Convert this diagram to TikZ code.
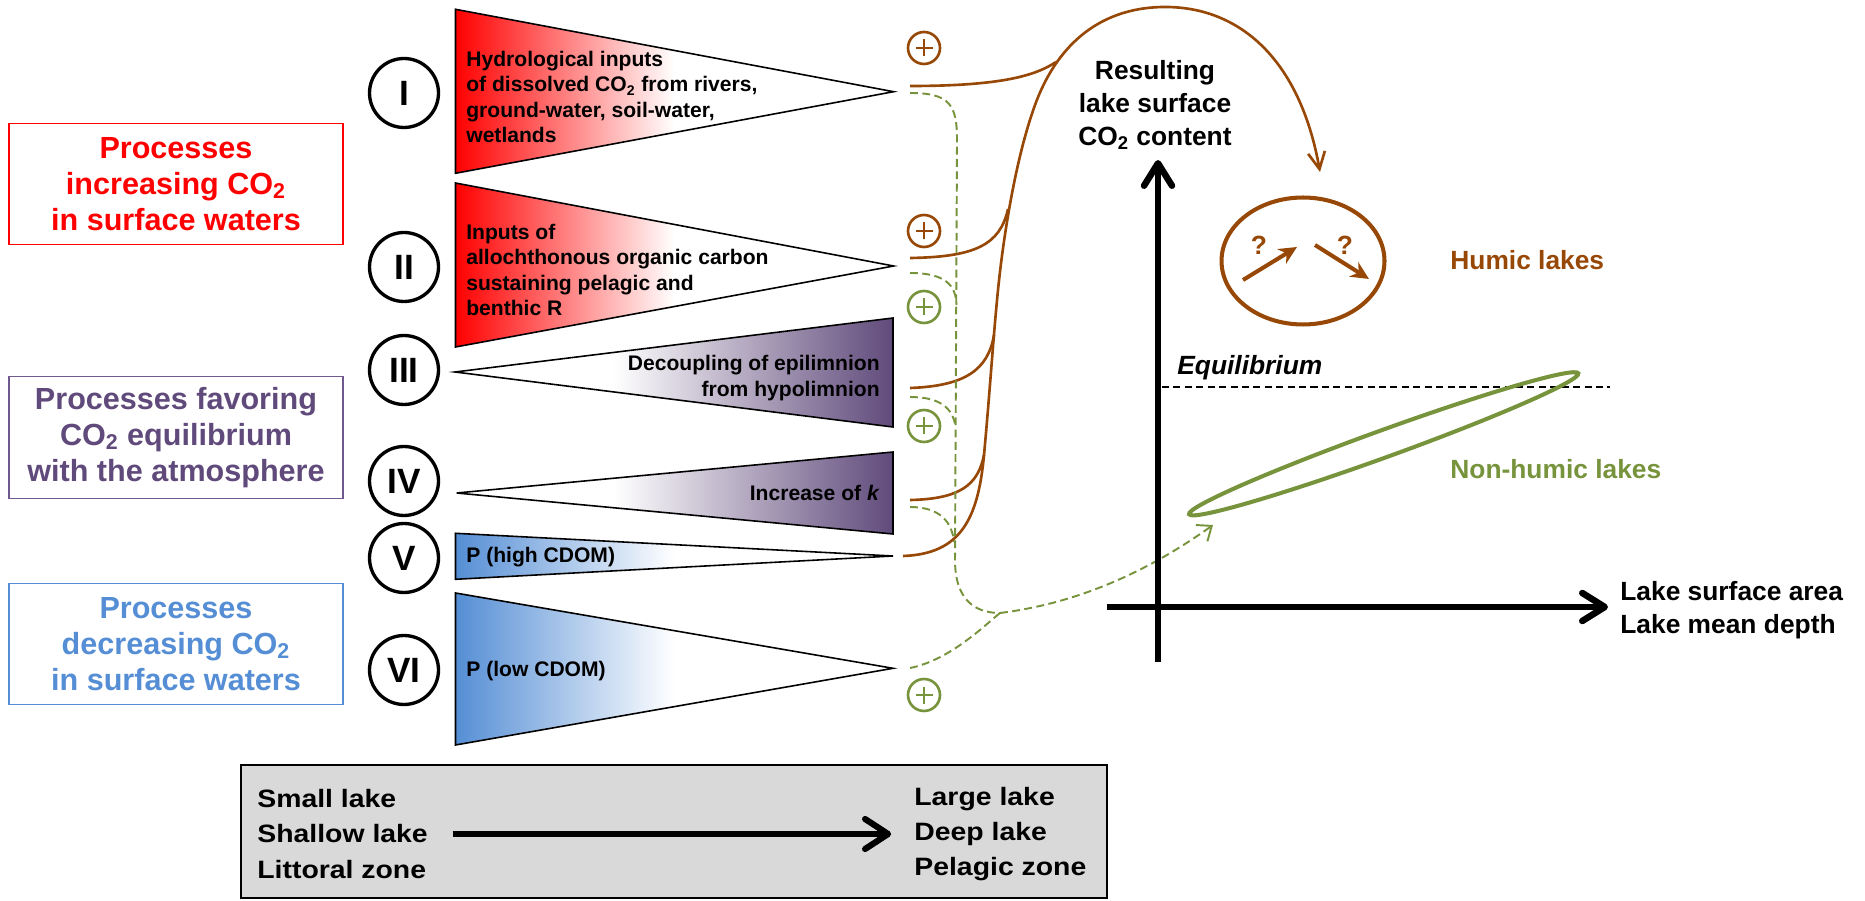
\documentclass[tikz,border=0pt]{standalone}
\usepackage{fontspec}
\setmainfont{Liberation Sans}
\newfontfamily\widefont{Liberation Sans}[FakeStretch=1.13]
\usetikzlibrary{arrows.meta,shapes.geometric}

\definecolor{procred}{RGB}{255,0,0}
\definecolor{procpurple}{RGB}{96,74,123}
\definecolor{purpleborder}{RGB}{112,88,145}
\definecolor{procblue}{RGB}{85,142,213}
\definecolor{humicbrown}{RGB}{152,72,6}
\definecolor{nonhumicgreen}{RGB}{119,147,60}
\definecolor{scalegray}{RGB}{217,217,217}

\pgfdeclarehorizontalshading{redfade}{100bp}{color(0bp)=(procred); color(25bp)=(procred); color(50bp)=(white); color(100bp)=(white)}
\pgfdeclarehorizontalshading{purplefade}{100bp}{color(0bp)=(white); color(43bp)=(white); color(75bp)=(procpurple); color(100bp)=(procpurple)}
\pgfdeclarehorizontalshading{bluefade}{100bp}{color(0bp)=(procblue); color(25bp)=(procblue); color(50bp)=(white); color(100bp)=(white)}

\begin{document}
\begin{tikzpicture}
  [x=0.02cm,y=-0.02cm,every node/.style={font=\bfseries},
   roman/.style={circle,draw,line width=1.9pt,minimum size=1.38cm,inner sep=0pt,font=\bfseries\fontsize{20}{24}\selectfont},
   plussign/.style={circle,draw=#1,line width=1.5pt,minimum size=0.64cm,inner sep=0pt,
     path picture={\draw[#1,line width=1.5pt] (path picture bounding box.center) +(-0.17cm,0) -- +(0.17cm,0) +(0,-0.17cm) -- +(0,0.17cm);}}]
  \tikzstyle{procbox} = [draw,line width=0.8pt,minimum width=6.68cm,minimum height=2.43cm,align=center,font=\bfseries\fontsize{17.4}{20.5}\selectfont]
  \tikzstyle{wedge} = [line width=0.9pt]
  \tikzstyle{wedgetext} = [inner sep=0pt,font=\bfseries\fontsize{12}{14.3}\selectfont]
  \tikzstyle{feed} = [humicbrown,line width=1.5pt]
  \tikzstyle{dilute} = [nonhumicgreen,line width=1.1pt,dash pattern=on 4.5pt off 2.5pt]
  \tikzstyle{plotaxis} = [line width=3.7pt]
  \tikzstyle{plotlabel} = [inner sep=0pt,font=\bfseries\fontsize{15}{18.6}\selectfont]
  \tikzstyle{widetext} = [inner sep=0pt,align=left,font=\widefont\bfseries\fontsize{14.3}{20}\selectfont]
  \useasboundingbox (0,0) rectangle (1865,901);

  % process classes
  \node[procbox,draw=procred,text=procred] (incr) at (176,184) {Processes\\increasing CO\textsubscript{2}\\in surface waters};
  \node[procbox,draw=purpleborder,text=procpurple] (favor) at (176,437.5) {Processes favoring\\CO\textsubscript{2} equilibrium\\with the atmosphere};
  \node[procbox,draw=procblue,text=procblue] (decr) at (176,644) {Processes\\decreasing CO\textsubscript{2}\\in surface waters};

  \foreach \name/\ypos/\num in {rI/93/I,rII/267/II,rIII/370/III,rIV/481/IV,rV/558/V,rVI/670/VI}
    \node[roman] (\name) at (404,\ypos) {\num};

  % wedges
  \shadedraw[wedge,shading=redfade] (455.5,9.3) -- (893.6,91.7) -- (455.5,173.3) -- cycle;
  \shadedraw[wedge,shading=redfade] (455.5,183) -- (893.6,266) -- (455.5,347) -- cycle;
  \shadedraw[wedge,shading=purplefade] (455,372) -- (893,318) -- (893,427) -- cycle;
  \shadedraw[wedge,shading=purplefade] (456.6,493) -- (893,452) -- (893,534) -- cycle;
  \shadedraw[wedge,shading=bluefade] (455.5,533.3) -- (893,556) -- (455.5,579.3) -- cycle;
  \shadedraw[wedge,shading=bluefade] (455.5,593) -- (893,668.3) -- (455.5,745) -- cycle;

  \node[wedgetext,anchor=west,align=left] (txtI) at (466,97) {Hydrological inputs\\of dissolved CO\textsubscript{2} from rivers,\\ground-water, soil-water,\\wetlands};
  \node[wedgetext,anchor=west,align=left] (txtII) at (466,270) {Inputs of\\allochthonous organic carbon\\sustaining pelagic and\\benthic R};
  \node[wedgetext,anchor=east,align=right] (txtIII) at (880,378) {Decoupling of epilimnion\\from hypolimnion};
  \node[wedgetext,anchor=east] (txtIV) at (880,493) {Increase of \textit{k}};
  \node[wedgetext,anchor=west] (txtV) at (466,557) {P (high CDOM)};
  \node[wedgetext,anchor=west] (txtVI) at (466,671) {P (low CDOM)};

  \foreach \name/\ypos/\col in {plusI/48/humicbrown,plusII/231/humicbrown,plusIII/307/nonhumicgreen,plusIV/426/nonhumicgreen,plusVI/695/nonhumicgreen}
    \node[plussign=\col] (\name) at (924,\ypos) {};

  % connector ends
  \coordinate (brnI) at (910,86);
  \coordinate (brnII) at (910,258);
  \coordinate (brnIII) at (910,388);
  \coordinate (brnIV) at (910,500);
  \coordinate (brnV) at (903,556);
  \coordinate (grnI) at (910,93);
  \coordinate (grnII) at (910,273);
  \coordinate (grnIII) at (910,397);
  \coordinate (grnIV) at (910,507);
  \coordinate (grnVI) at (910,668);
  \coordinate (joinI) at (1056,62);
  \coordinate (joinII) at (1008,209);
  \coordinate (joinIII) at (994,335);
  \coordinate (joinIV) at (984,455);
  \coordinate (gII) at (956.5,305);
  \coordinate (gIII) at (955.5,427);
  \coordinate (gIV) at (954,542);
  \coordinate (merge) at (1000,613);
  \coordinate (humictop) at (1320,172);
  \coordinate (nhtip) at (1213,525);

  \draw[feed,-{Straight Barb[length=0.34cm,width=0.34cm]}] (brnV) .. controls (960,554) and (978,520) .. (joinIV)
    .. controls (990,390) and (993,340) .. (998,290) .. controls (1003,240) and (1015,160) .. (1035,105)
    .. controls (1055,50) and (1095,8) .. (1163,7) .. controls (1240,6) and (1300,60) .. (humictop);
  \draw[feed] (brnI) .. controls (1000,86) and (1035,76) .. (joinI);
  \draw[feed] (brnII) .. controls (975,257) and (1000,245) .. (joinII);
  \draw[feed] (brnIII) .. controls (965,386) and (988,370) .. (joinIII);
  \draw[feed] (brnIV) .. controls (960,499) and (978,485) .. (joinIV);

  \draw[dilute] (grnI) .. controls (950,93) and (957,105) .. (957,140) -- (955,560) .. controls (955,600) and (975,613) .. (merge);
  \draw[dilute] (grnII) .. controls (945,273) and (956,285) .. (gII);
  \draw[dilute] (grnIII) .. controls (940,397) and (953,408) .. (gIII);
  \draw[dilute] (grnIV) .. controls (940,507) and (952,522) .. (gIV);
  \draw[dilute] (grnVI) .. controls (950,660) and (985,625) .. (merge);
  \draw[dilute,-{Straight Barb[length=0.25cm,width=0.4cm]}] (merge) .. controls (1080,603) and (1150,570) .. (nhtip);

  % graph
  \coordinate (yfoot) at (1158,662);
  \coordinate (ytop) at (1158,160);
  \coordinate (xfoot) at (1107,607);
  \coordinate (xtip) at (1608,607);
  \coordinate (eqL) at (1162,387);
  \coordinate (eqR) at (1610,387);
  \draw[plotaxis,-{Straight Barb[length=0.45cm,width=0.56cm,round]}] (yfoot) -- (ytop);
  \draw[plotaxis,-{Straight Barb[length=0.45cm,width=0.56cm,round]}] (xfoot) -- (xtip);
  \draw[line width=1.1pt,dash pattern=on 4pt off 2.5pt] (eqL) -- (eqR);

  \node[plotlabel,align=center] (result) at (1155,105) {Resulting\\lake surface\\CO\textsubscript{2} content};
  \node[plotlabel,align=left,anchor=west] (xlabel) at (1620,610) {Lake surface area\\Lake mean depth};
  \node[plotlabel,anchor=west,font=\bfseries\itshape\fontsize{15}{18}\selectfont] (equil) at (1177,368) {Equilibrium};

  \node[ellipse,draw=humicbrown,line width=2.3pt,inner sep=0pt,minimum width=3.26cm,minimum height=2.54cm] (humic) at (1303,261) {};
  \coordinate (q1s) at (1243,280);
  \coordinate (q1e) at (1297,247);
  \coordinate (q2s) at (1315,245);
  \coordinate (q2e) at (1369,279);
  \draw[humicbrown,line width=2.3pt,-{Stealth[length=0.36cm,width=0.34cm]}] (q1s) -- (q1e);
  \draw[humicbrown,line width=2.3pt,-{Stealth[length=0.36cm,width=0.34cm]}] (q2s) -- (q2e);
  \node[plotlabel,text=humicbrown] (qa) at (1259,245) {?};
  \node[plotlabel,text=humicbrown] (qb) at (1345,245) {?};
  \node[plotlabel,text=humicbrown,anchor=west] (humiclbl) at (1450,260) {Humic lakes};

  \node[ellipse,draw=nonhumicgreen,line width=2.3pt,inner sep=0pt,rotate=19.9,minimum width=8.28cm,minimum height=0.54cm] (nonhumic) at (1383.7,443.8) {};
  \node[plotlabel,text=nonhumicgreen,anchor=west] (nonhumiclbl) at (1450,469) {Non-humic lakes};

  % lake size scale
  \node[draw,fill=scalegray,line width=1.2pt,minimum width=17.32cm,minimum height=2.66cm] (scale) at (674,831.5) {};
  \node[widetext,anchor=west] (smallcol) at (257,834) {Small lake\\Shallow lake\\Littoral zone};
  \node[widetext,anchor=west] (largecol) at (914,834) {Large lake\\Deep lake\\Pelagic zone};
  \draw[line width=3.5pt,shorten <=14pt,shorten >=13pt,-{Straight Barb[length=0.46cm,width=0.6cm,round]}] (smallcol.east) -- (smallcol.east -| largecol.west);
\end{tikzpicture}
\end{document}
